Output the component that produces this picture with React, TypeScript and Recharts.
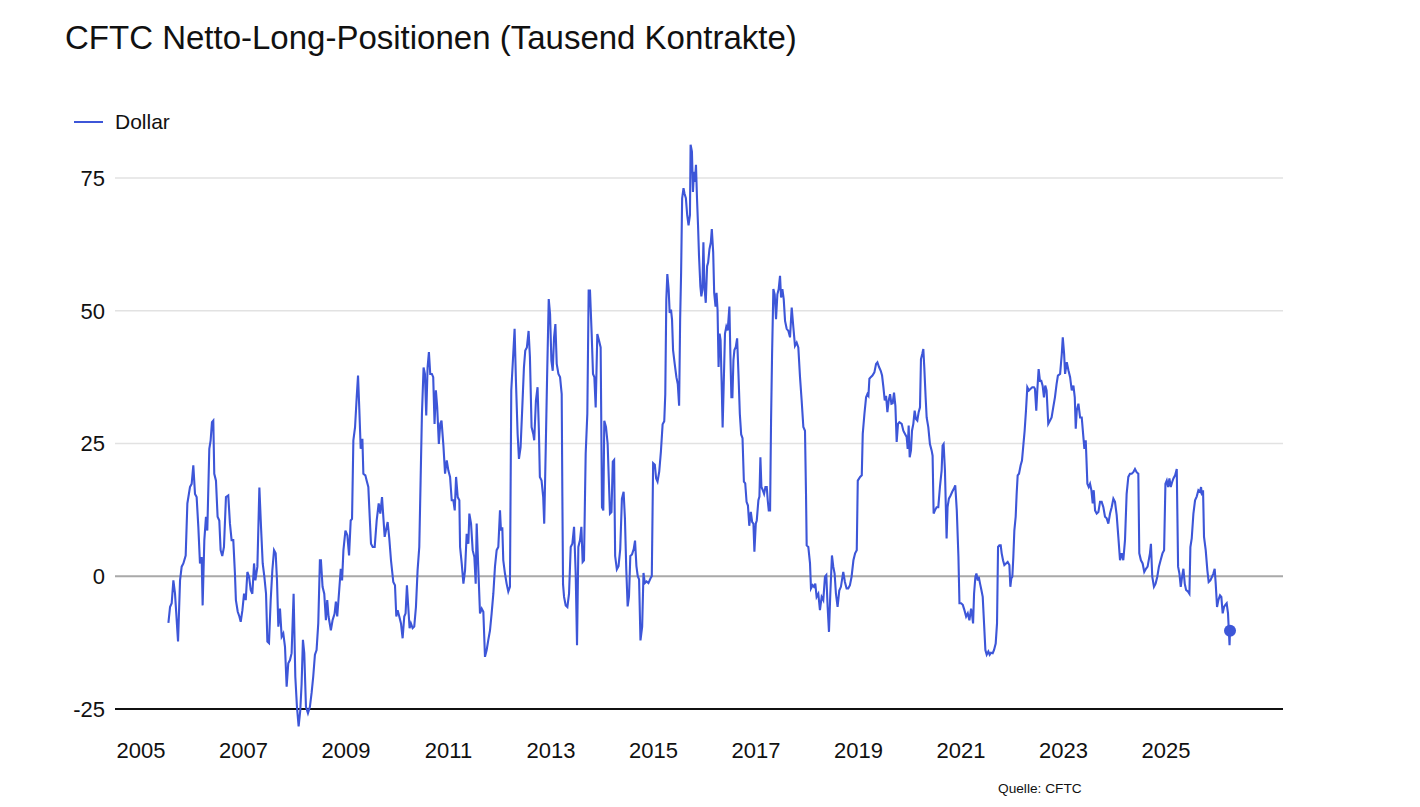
import React from "react";
import { LineChart, Line, XAxis, YAxis, CartesianGrid, ReferenceLine } from "recharts";

const title = "CFTC Netto-Long-Positionen (Tausend Kontrakte)";
const seriesName = "Dollar";
const sourceNote = "Quelle: CFTC";
const yearTicks = [2005, 2007, 2009, 2011, 2013, 2015, 2017, 2019, 2021, 2023, 2025];
const valueTicks = [-25, 0, 25, 50, 75];
const gridValues = [25, 50, 75];

const dates = [
  2005.535, 2005.567, 2005.599, 2005.632, 2005.664, 2005.723, 2005.762, 2005.794, 2005.827, 2005.872,
  2005.905, 2005.956, 2005.989, 2006.021, 2006.054, 2006.086, 2006.119, 2006.151, 2006.184, 2006.203,
  2006.236, 2006.268, 2006.294, 2006.333, 2006.359, 2006.385, 2006.411, 2006.43, 2006.463, 2006.495,
  2006.528, 2006.554, 2006.586, 2006.619, 2006.658, 2006.703, 2006.736, 2006.768, 2006.801, 2006.833,
  2006.852, 2006.888, 2006.92, 2006.946, 2006.979, 2007.011, 2007.044, 2007.076, 2007.109, 2007.141,
  2007.173, 2007.206, 2007.232, 2007.271, 2007.31, 2007.342, 2007.375, 2007.407, 2007.44, 2007.466,
  2007.498, 2007.531, 2007.563, 2007.596, 2007.628, 2007.654, 2007.68, 2007.712, 2007.745, 2007.777,
  2007.81, 2007.842, 2007.874, 2007.907, 2007.939, 2007.978, 2008.011, 2008.043, 2008.076, 2008.108,
  2008.134, 2008.16, 2008.186, 2008.219, 2008.258, 2008.296, 2008.329, 2008.361, 2008.394, 2008.426,
  2008.459, 2008.491, 2008.511, 2008.543, 2008.576, 2008.608, 2008.634, 2008.66, 2008.705, 2008.738,
  2008.777, 2008.803, 2008.829, 2008.868, 2008.898, 2008.924, 2008.95, 2008.989, 2009.027, 2009.06,
  2009.092, 2009.118, 2009.144, 2009.177, 2009.209, 2009.235, 2009.261, 2009.287, 2009.32, 2009.339,
  2009.378, 2009.404, 2009.436, 2009.469, 2009.488, 2009.521, 2009.56, 2009.599, 2009.638, 2009.67,
  2009.703, 2009.729, 2009.755, 2009.78, 2009.813, 2009.845, 2009.878, 2009.923, 2009.956, 2009.982,
  2010.008, 2010.04, 2010.073, 2010.105, 2010.137, 2010.163, 2010.189, 2010.215, 2010.241, 2010.267,
  2010.3, 2010.332, 2010.365, 2010.397, 2010.43, 2010.456, 2010.482, 2010.514, 2010.54, 2010.566,
  2010.592, 2010.618, 2010.644, 2010.676, 2010.702, 2010.728, 2010.754, 2010.78, 2010.812, 2010.839,
  2010.864, 2010.901, 2010.933, 2010.966, 2010.998, 2011.031, 2011.063, 2011.095, 2011.122, 2011.148,
  2011.18, 2011.212, 2011.226, 2011.258, 2011.291, 2011.323, 2011.355, 2011.388, 2011.407, 2011.44,
  2011.472, 2011.505, 2011.531, 2011.55, 2011.583, 2011.615, 2011.648, 2011.68, 2011.712, 2011.745,
  2011.777, 2011.81, 2011.842, 2011.875, 2011.907, 2011.94, 2011.972, 2012.005, 2012.024, 2012.05,
  2012.069, 2012.102, 2012.134, 2012.167, 2012.199, 2012.225, 2012.264, 2012.29, 2012.316, 2012.349,
  2012.375, 2012.407, 2012.44, 2012.472, 2012.498, 2012.53, 2012.563, 2012.589, 2012.621, 2012.654,
  2012.673, 2012.706, 2012.738, 2012.764, 2012.783, 2012.816, 2012.848, 2012.868, 2012.898, 2012.924,
  2012.956, 2012.982, 2013.008, 2013.034, 2013.06, 2013.086, 2013.112, 2013.145, 2013.177, 2013.209,
  2013.222, 2013.235, 2013.255, 2013.287, 2013.32, 2013.352, 2013.385, 2013.417, 2013.45, 2013.482,
  2013.508, 2013.534, 2013.566, 2013.593, 2013.618, 2013.644, 2013.677, 2013.709, 2013.735, 2013.761,
  2013.794, 2013.82, 2013.846, 2013.872, 2013.904, 2013.937, 2013.969, 2013.995, 2014.021, 2014.04,
  2014.073, 2014.105, 2014.138, 2014.151, 2014.18, 2014.206, 2014.232, 2014.252, 2014.285, 2014.318,
  2014.351, 2014.384, 2014.417, 2014.443, 2014.469, 2014.496, 2014.522, 2014.548, 2014.581, 2014.614,
  2014.64, 2014.667, 2014.693, 2014.719, 2014.746, 2014.779, 2014.805, 2014.831, 2014.864, 2014.901,
  2014.947, 2014.967, 2014.993, 2015.026, 2015.052, 2015.079, 2015.112, 2015.145, 2015.178, 2015.21,
  2015.23, 2015.25, 2015.27, 2015.296, 2015.316, 2015.342, 2015.362, 2015.382, 2015.414, 2015.447,
  2015.474, 2015.5, 2015.52, 2015.539, 2015.559, 2015.586, 2015.605, 2015.632, 2015.658, 2015.684,
  2015.711, 2015.724, 2015.75, 2015.77, 2015.79, 2015.809, 2015.829, 2015.849, 2015.869, 2015.888,
  2015.915, 2015.934, 2015.954, 2015.974, 2015.994, 2016.02, 2016.046, 2016.066, 2016.092, 2016.119,
  2016.138, 2016.165, 2016.184, 2016.211, 2016.23, 2016.25, 2016.27, 2016.29, 2016.309, 2016.329,
  2016.349, 2016.369, 2016.395, 2016.421, 2016.448, 2016.481, 2016.5, 2016.52, 2016.54, 2016.56,
  2016.579, 2016.606, 2016.632, 2016.658, 2016.685, 2016.711, 2016.737, 2016.764, 2016.79, 2016.816,
  2016.843, 2016.869, 2016.899, 2016.926, 2016.95, 2016.969, 2016.996, 2017.015, 2017.047, 2017.067,
  2017.086, 2017.106, 2017.132, 2017.158, 2017.184, 2017.21, 2017.229, 2017.249, 2017.275, 2017.294,
  2017.314, 2017.339, 2017.365, 2017.391, 2017.417, 2017.443, 2017.469, 2017.489, 2017.515, 2017.541,
  2017.567, 2017.599, 2017.632, 2017.664, 2017.697, 2017.729, 2017.761, 2017.794, 2017.826, 2017.859,
  2017.891, 2017.924, 2017.956, 2017.976, 2017.989, 2018.021, 2018.054, 2018.073, 2018.105, 2018.131,
  2018.157, 2018.183, 2018.216, 2018.248, 2018.281, 2018.313, 2018.346, 2018.372, 2018.398, 2018.424,
  2018.45, 2018.482, 2018.508, 2018.534, 2018.56, 2018.592, 2018.625, 2018.657, 2018.703, 2018.735,
  2018.768, 2018.8, 2018.833, 2018.865, 2018.901, 2018.934, 2018.966, 2018.986, 2019.031, 2019.064,
  2019.083, 2019.116, 2019.148, 2019.174, 2019.194, 2019.213, 2019.239, 2019.272, 2019.31, 2019.343,
  2019.369, 2019.401, 2019.434, 2019.46, 2019.486, 2019.512, 2019.538, 2019.564, 2019.59, 2019.616,
  2019.642, 2019.667, 2019.693, 2019.72, 2019.745, 2019.771, 2019.797, 2019.843, 2019.875, 2019.908,
  2019.94, 2019.96, 2019.979, 2019.999, 2020.024, 2020.044, 2020.07, 2020.096, 2020.122, 2020.148,
  2020.174, 2020.2, 2020.219, 2020.245, 2020.265, 2020.284, 2020.31, 2020.33, 2020.362, 2020.394,
  2020.427, 2020.446, 2020.466, 2020.492, 2020.524, 2020.557, 2020.589, 2020.622, 2020.641, 2020.661,
  2020.687, 2020.719, 2020.738, 2020.764, 2020.797, 2020.829, 2020.862, 2020.888, 2020.918, 2020.95,
  2020.97, 2021.002, 2021.035, 2021.067, 2021.1, 2021.132, 2021.164, 2021.197, 2021.216, 2021.236,
  2021.255, 2021.281, 2021.301, 2021.327, 2021.346, 2021.372, 2021.398, 2021.424, 2021.45, 2021.476,
  2021.502, 2021.534, 2021.56, 2021.586, 2021.619, 2021.645, 2021.677, 2021.703, 2021.723, 2021.749,
  2021.775, 2021.794, 2021.82, 2021.846, 2021.879, 2021.911, 2021.944, 2021.963, 2021.982, 2022.002,
  2022.021, 2022.041, 2022.067, 2022.086, 2022.106, 2022.132, 2022.164, 2022.19, 2022.216, 2022.242,
  2022.268, 2022.294, 2022.326, 2022.359, 2022.391, 2022.424, 2022.443, 2022.469, 2022.489, 2022.515,
  2022.541, 2022.567, 2022.593, 2022.619, 2022.644, 2022.67, 2022.703, 2022.735, 2022.768, 2022.8,
  2022.833, 2022.865, 2022.891, 2022.934, 2022.967, 2022.986, 2023.012, 2023.031, 2023.064, 2023.096,
  2023.129, 2023.161, 2023.194, 2023.22, 2023.239, 2023.259, 2023.291, 2023.324, 2023.356, 2023.388,
  2023.408, 2023.434, 2023.466, 2023.492, 2023.518, 2023.544, 2023.57, 2023.59, 2023.616, 2023.648,
  2023.681, 2023.713, 2023.745, 2023.778, 2023.81, 2023.843, 2023.875, 2023.908, 2023.94, 2023.973,
  2024.005, 2024.038, 2024.07, 2024.103, 2024.135, 2024.167, 2024.2, 2024.232, 2024.265, 2024.297,
  2024.33, 2024.362, 2024.395, 2024.427, 2024.46, 2024.479, 2024.511, 2024.544, 2024.576, 2024.609,
  2024.641, 2024.687, 2024.706, 2024.732, 2024.765, 2024.797, 2024.83, 2024.862, 2024.895, 2024.931,
  2024.963, 2024.989, 2025.015, 2025.041, 2025.067, 2025.093, 2025.119, 2025.145, 2025.178, 2025.21,
  2025.236, 2025.262, 2025.288, 2025.314, 2025.34, 2025.366, 2025.392, 2025.431, 2025.457, 2025.476,
  2025.502, 2025.535, 2025.567, 2025.599, 2025.632, 2025.664, 2025.684, 2025.703, 2025.723, 2025.742,
  2025.775, 2025.807, 2025.833, 2025.866, 2025.898, 2025.924, 2025.95, 2025.97, 2025.996, 2026.022,
  2026.054, 2026.08, 2026.106, 2026.132, 2026.158, 2026.184, 2026.21, 2026.24, 2026.249,
];

const netLong = [
  -8.8, -5.8, -5.1, -0.8, -3.3, -12.3, -0.8, 1.8, 2.4, 3.9,
  13.7, 16.8, 17.4, 20.9, 15.5, 14.9, 9.3, 2.4, 3.6, -5.5,
  6.8, 11.2, 8.6, 24.0, 25.6, 29.0, 29.3, 19.3, 18.0, 11.2,
  10.5, 4.9, 3.8, 5.5, 14.9, 15.2, 9.9, 6.8, 6.8, 0.5,
  -4.5, -6.7, -7.6, -8.6, -6.4, -3.3, -4.5, 0.8, -0.1, -2.6,
  -3.3, 2.4, -0.8, 1.8, 16.7, 9.3, 2.4, -0.1, -3.3, -12.3,
  -12.6, -4.5, 1.1, 4.9, 4.3, -0.8, -9.5, -6.1, -11.4, -10.8,
  -13.3, -20.8, -16.4, -15.8, -14.5, -3.3, -18.9, -24.6, -28.3, -25.3,
  -20.3, -12.0, -14.5, -24.6, -25.8, -24.6, -22.0, -18.9, -14.8, -13.9,
  -8.9, 3.0, 3.0, -2.0, -3.3, -8.3, -4.5, -7.6, -10.2, -8.3,
  -7.1, -4.8, -7.6, -2.6, 1.4, -0.8, 4.9, 8.6, 7.7, 3.9,
  10.5, 10.8, 25.6, 28.1, 33.7, 37.8, 31.2, 24.0, 25.9, 19.3,
  19.0, 18.0, 16.8, 9.9, 6.1, 5.5, 5.5, 10.5, 13.7, 11.8,
  14.9, 11.1, 7.4, 8.6, 10.2, 7.1, 3.0, -1.1, -1.7, -7.6,
  -6.4, -7.6, -8.9, -11.7, -7.6, -7.0, -1.7, -5.8, -9.8, -8.9,
  -9.8, -9.5, -5.8, 1.1, 5.5, 18.0, 30.6, 39.3, 38.1, 30.3,
  39.3, 42.2, 38.1, 38.1, 37.5, 28.7, 35.0, 31.8, 24.9, 28.7,
  29.3, 24.6, 19.3, 21.8, 19.9, 18.7, 14.3, 14.3, 12.4, 18.7,
  14.9, 14.3, 5.5, 2.4, -1.4, 1.1, 8.0, 6.1, 11.8, 9.9,
  4.9, 3.6, -1.4, 9.9, 1.1, -7.0, -6.1, -6.7, -15.2, -13.9,
  -12.0, -10.2, -7.0, -3.3, 1.8, 4.9, 5.5, 12.4, 8.6, 9.2,
  3.0, 0.5, -1.4, -2.9, -2.0, 35.0, 41.9, 46.6, 36.8, 26.8,
  22.1, 24.3, 31.8, 39.3, 42.5, 43.1, 46.2, 41.3, 28.1, 26.8,
  25.6, 33.1, 35.6, 27.4, 18.7, 18.0, 14.9, 9.9, 24.3, 37.5,
  52.2, 49.4, 40.6, 38.7, 45.0, 47.5, 40.0, 38.1, 37.5, 34.3,
  15.0, -1.5, -3.9, -5.5, -5.8, -3.3, 5.5, 6.1, 9.3, 0.5,
  -13.0, 5.5, 6.8, 9.3, 2.7, 3.0, 23.1, 30.6, 53.8, 53.8,
  45.6, 38.1, 37.5, 31.8, 45.6, 44.4, 43.1, 13.0, 12.4, 29.3,
  28.1, 25.0, 15.5, 11.8, 12.1, 21.6, 21.9, 3.8, 1.3, 1.9,
  5.1, 14.6, 15.9, 10.8, 1.3, -5.7, -3.8, 3.8, 4.1, 5.1,
  6.7, 1.9, 0.0, -0.6, -12.1, -9.5, 0.6, -1.3, -1.0, -1.3,
  -0.3, 0.0, 21.3, 21.0, 18.4, 17.8, 19.7, 23.5, 28.6, 29.2,
  34.3, 52.1, 56.9, 54.0, 49.6, 50.2, 48.3, 42.6, 40.0, 37.5,
  36.2, 32.1, 48.3, 57.2, 71.2, 73.1, 72.1, 71.2, 68.0, 66.1,
  68.0, 81.3, 80.0, 72.4, 76.2, 74.3, 77.5, 71.2, 66.1, 60.4,
  54.6, 52.7, 54.0, 62.9, 54.6, 51.5, 58.4, 59.1, 61.6, 62.9,
  65.4, 61.0, 53.4, 50.8, 53.4, 50.2, 39.4, 45.7, 44.5, 36.8,
  28.0, 35.6, 45.7, 47.0, 46.3, 50.8, 41.9, 33.7, 33.7, 40.7,
  42.6, 43.2, 44.8, 38.1, 30.5, 26.7, 26.0, 17.8, 17.5, 14.0,
  13.3, 9.5, 12.1, 10.2, 9.9, 4.6, 9.9, 10.5, 14.3, 15.0,
  22.4, 16.8, 16.2, 15.5, 16.8, 16.8, 14.3, 12.4, 12.4, 29.3,
  41.9, 54.1, 53.1, 48.4, 53.1, 54.1, 56.6, 52.5, 54.1, 52.2,
  48.1, 46.6, 46.2, 45.0, 50.6, 46.9, 43.4, 44.0, 43.1, 37.5,
  33.1, 28.1, 27.4, 15.5, 5.8, 5.5, 2.4, -2.3, -1.7, -2.0,
  -1.4, -3.9, -3.3, -6.4, -3.9, -4.5, -0.1, 0.2, -5.8, -10.5,
  -3.3, 3.9, 1.8, 0.5, -3.3, -5.8, -2.7, -2.0, 0.8, -1.1,
  -2.3, -2.3, -1.7, -0.1, 3.0, 4.3, 4.9, 18.0, 18.7, 19.0,
  26.8, 30.6, 33.7, 34.3, 34.0, 37.2, 37.5, 37.8, 38.4, 40.0,
  40.3, 39.4, 38.7, 37.8, 35.6, 33.1, 34.0, 30.9, 33.1, 34.3,
  32.5, 32.6, 34.6, 32.1, 25.3, 28.7, 29.0, 28.7, 27.4, 26.8,
  26.2, 24.0, 28.4, 22.4, 23.7, 27.4, 28.7, 31.2, 29.6, 29.3,
  30.9, 31.8, 40.9, 41.9, 42.8, 39.3, 33.7, 29.9, 28.1, 24.9,
  23.7, 22.7, 11.8, 12.4, 13.0, 13.0, 16.8, 19.9, 24.6, 24.9,
  19.9, 7.1, 13.0, 14.6, 15.2, 15.9, 16.5, 17.1, 12.4, 3.6,
  -5.1, -5.1, -5.4, -6.4, -7.6, -7.0, -8.3, -6.1, -7.3, -8.9,
  -3.3, -0.1, 0.5, -0.8, -0.1, -1.4, -2.6, -3.9, -8.9, -13.9,
  -14.8, -14.2, -14.8, -14.4, -14.5, -13.9, -12.7, -8.9, 5.5, 5.8,
  5.8, 4.3, 3.0, 2.1, 2.4, 2.7, 2.1, -2.0, -0.4, -0.1,
  3.6, 8.6, 11.2, 15.5, 19.0, 19.3, 20.9, 21.8, 24.6, 27.4,
  31.2, 35.6, 35.0, 35.3, 35.6, 35.6, 35.3, 31.2, 35.0, 39.0,
  36.8, 36.8, 35.9, 33.7, 35.9, 35.0, 28.7, 29.3, 29.9, 31.8,
  33.7, 36.2, 37.8, 38.1, 41.9, 45.0, 41.9, 38.1, 40.3, 38.8,
  37.5, 35.0, 35.9, 33.7, 27.8, 31.2, 32.5, 29.9, 29.9, 26.2,
  24.0, 25.6, 17.4, 16.8, 17.4, 16.2, 13.7, 16.2, 12.4, 11.8,
  12.1, 14.0, 14.0, 13.0, 11.2, 10.9, 9.9, 11.8, 13.0, 14.6,
  14.0, 11.5, 7.4, 3.0, 4.3, 3.0, 6.8, 15.5, 18.7, 19.3,
  19.3, 19.6, 20.2, 19.6, 19.3, 4.3, 3.0, 2.4, 0.8, 1.4,
  1.8, 4.3, 6.1, -0.1, -2.0, -1.4, -0.1, 1.8, 3.0, 4.3,
  4.9, 17.4, 18.0, 16.8, 18.4, 16.8, 17.7, 18.4, 19.0, 20.2,
  1.8, 0.5, -2.0, -0.1, 1.4, -1.4, -2.6, -2.9, -3.3, 5.5,
  7.1, 11.8, 14.3, 15.0, 16.2, 15.9, 16.8, 15.2, 16.2, 7.4,
  4.9, 1.1, -1.1, -0.8, -0.1, 0.5, 1.4, -1.4, -5.8, -4.5,
  -3.6, -3.9, -7.0, -5.8, -5.4, -5.1, -7.0, -13.0, -10.3,
];

const data = dates.map((t, i) => ({ t, v: netLong[i] }));
const lastIndex = data.length - 1;

const BLUE = "#3d56d8";
const FONT = "'Liberation Sans', Arial, Helvetica, sans-serif";

const renderDot = (props: any) => {
  const { cx, cy, index } = props;
  if (index !== lastIndex) return <g key={`d-${index}`} />;
  return <circle key={`d-${index}`} cx={cx} cy={cy} r={6} fill={BLUE} stroke="none" />;
};

export default function App() {
  return (
    <div
      style={{
        position: "absolute",
        left: 0,
        top: 0,
        width: 1420,
        height: 807,
        background: "#ffffff",
        fontFamily: FONT,
        overflow: "hidden",
      }}
    >
      <div
        style={{
          position: "absolute",
          left: 65,
          top: 19,
          fontSize: 33,
          color: "#111",
          whiteSpace: "nowrap",
          fontFamily: FONT,
        }}
      >
        {title}
      </div>
      <div
        style={{
          position: "absolute",
          left: 74,
          top: 110,
          display: "flex",
          alignItems: "center",
          height: 24,
          fontFamily: FONT,
          fontSize: 21,
          color: "#111",
          whiteSpace: "nowrap",
        }}
      >
        <svg width={29} height={4} style={{ marginRight: 12 }}>
          <line x1={0} y1={2} x2={29} y2={2} stroke={BLUE} strokeWidth={2} />
        </svg>
        <span>{seriesName}</span>
      </div>
      <LineChart
        width={1420}
        height={807}
        data={data}
        margin={{ top: 125, right: 137, bottom: 21, left: 55 }}
      >
        <CartesianGrid vertical={false} horizontalValues={gridValues} stroke="#e2e2e2" strokeWidth={1.5} />
        <XAxis
          dataKey="t"
          type="number"
          domain={[2004.493, 2027.283]}
          ticks={yearTicks}
          allowDataOverflow
          height={58}
          tickLine={false}
          tickSize={0}
          tickMargin={14}
          axisLine={false}
          tick={{ fill: "#111", fontSize: 22, fontFamily: FONT }}
        />
        <YAxis
          type="number"
          domain={[-28.6, 85]}
          ticks={valueTicks}
          allowDataOverflow
          width={60}
          tickLine={false}
          tickSize={0}
          tickMargin={10}
          axisLine={false}
          tick={{ fill: "#111", fontSize: 22, fontFamily: FONT }}
        />
        <ReferenceLine y={0} stroke="#a9a9a9" strokeWidth={2} />
        <ReferenceLine y={-25} stroke="#111" strokeWidth={2} />
        <Line
          type="linear"
          dataKey="v"
          name={seriesName}
          stroke={BLUE}
          strokeWidth={2.1}
          dot={renderDot}
          activeDot={false}
          isAnimationActive={false}
        />
      </LineChart>
      <div
        style={{
          position: "absolute",
          left: 998,
          top: 781,
          fontSize: 13.7,
          color: "#111",
          fontFamily: FONT,
          whiteSpace: "nowrap",
        }}
      >
        {sourceNote}
      </div>
    </div>
  );
}
